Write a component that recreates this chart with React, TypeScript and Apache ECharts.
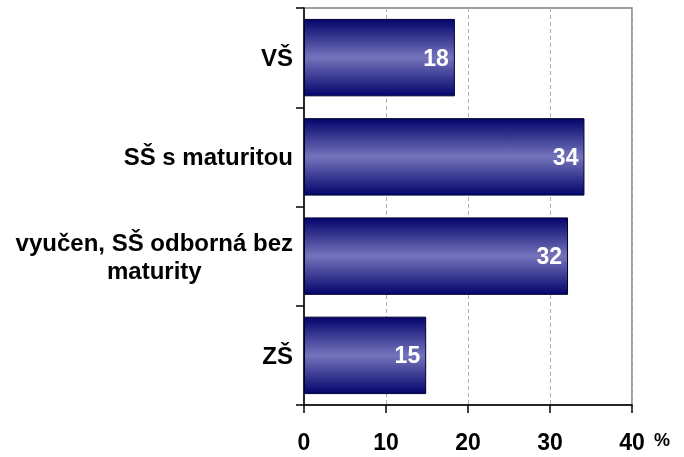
import React, { useEffect, useRef } from "react";
import * as echarts from "echarts";

const categories = ["ZŠ", "vyučen, SŠ odborná bez\nmaturity", "SŠ s maturitou", "VŠ"];
const values = [14.9, 32.2, 34.2, 18.4];
const xTicks = [0, 10, 20, 30, 40];
const unitLabel = "%";

const FONT = "'Liberation Sans', Arial, sans-serif";

export default function App() {
  const ref = useRef<HTMLDivElement>(null);
  useEffect(() => {
    if (!ref.current) return;
    const chart = echarts.init(ref.current, undefined, { renderer: "svg" });
    const barColor = new echarts.graphic.LinearGradient(0, 0, 0, 1, [
      { offset: 0, color: "#04046c" },
      { offset: 0.5, color: "#7474bc" },
      { offset: 1, color: "#04046c" },
    ]);
    chart.setOption({
      animation: false,
      grid: {
        left: 304,
        right: 52,
        top: 8,
        bottom: 52,
        show: true,
        borderColor: "#808080",
        borderWidth: 1.5,
        backgroundColor: "transparent",
      },
      xAxis: {
        type: "value",
        min: xTicks[0],
        max: xTicks[xTicks.length - 1],
        interval: 10,
        axisLine: { show: true, lineStyle: { color: "#000", width: 1.5 } },
        axisTick: { show: true, length: 8, lineStyle: { color: "#000", width: 1.5 } },
        axisLabel: {
          margin: 25,
          fontSize: 23,
          fontWeight: "bold",
          fontFamily: FONT,
          color: "#000",
        },
        splitLine: { show: true, lineStyle: { color: "#b0b0b0", type: [4, 3], width: 1 } },
      },
      yAxis: {
        type: "category",
        data: categories,
        axisLine: { show: true, lineStyle: { color: "#000", width: 1.5 } },
        axisTick: { show: true, length: 8, lineStyle: { color: "#000", width: 1.5 } },
        axisLabel: {
          margin: 11,
          formatter: (v: string) =>
            v
              .split("\n")
              .map((l) => "{c|" + l + "}")
              .join("\n"),
          rich: {
            c: {
              align: "center",
              fontSize: 24,
              lineHeight: 28,
              fontWeight: "bold",
              fontFamily: FONT,
              color: "#000",
            },
          },
        },
        splitLine: { show: false },
      },
      series: [
        {
          type: "bar",
          data: values,
          barCategoryGap: "22%",
          itemStyle: { color: barColor, borderColor: "#000030", borderWidth: 1 },
          label: {
            show: true,
            position: "insideRight",
            distance: 6,
            formatter: (p: any) => String(Math.round(p.value)),
            color: "#fff",
            fontSize: 23,
            fontWeight: "bold",
            fontFamily: FONT,
          },
        },
      ],
      graphic: [
        {
          type: "text",
          left: 654,
          top: 431,
          style: {
            text: unitLabel,
            fontSize: 18,
            fontWeight: "bold",
            fontFamily: FONT,
            fill: "#000",
          },
        },
      ],
    });
    return () => chart.dispose();
  }, []);
  return (
    <div
      ref={ref}
      style={{ position: "fixed", left: 0, top: 0, width: 684, height: 457 }}
    />
  );
}
